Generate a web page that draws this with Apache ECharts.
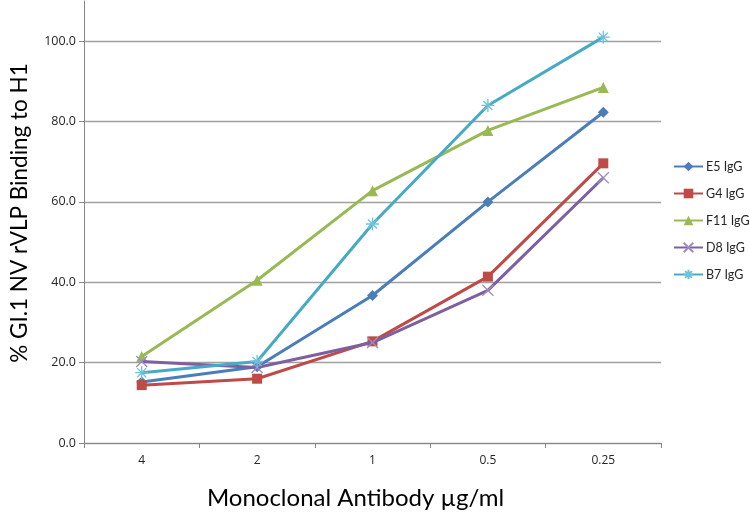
<!DOCTYPE html>
<html>
<head>
<meta charset="utf-8">
<script src="https://cdn.jsdelivr.net/npm/echarts@6/dist/echarts.min.js"></script>
<style>html,body{margin:0;padding:0;background:#fff}#c{width:750px;height:515px}</style>
</head>
<body>
<div id="c"></div>
<script>
var categories = ['4', '2', '1', '0.5', '0.25'];
var seriesNames = ['E5 IgG', 'G4 IgG', 'F11 IgG', 'D8 IgG', 'B7 IgG'];
var E5 = [15.2, 19.0, 36.7, 60.0, 82.3];
var G4 = [14.4, 16.0, 25.3, 41.4, 69.6];
var F11 = [21.5, 40.5, 62.8, 77.8, 88.5];
var D8 = [20.3, 18.8, 25.0, 38.0, 66.0];
var B7 = [17.5, 20.3, 54.5, 84.0, 101.0];
var yTicks = [0, 20, 40, 60, 80, 100];

var xTitle = 'Monoclonal Antibody \u00b5g/ml';
var yTitle = '% GI.1 NV rVLP Binding to H1';

var FONT = 'Lato';
var TICKFONT = 'Open Sans';
var styles = [
  {color: '#4A7EBB', symbol: 'diamond', size: 11, border: '#4A7EBB'},
  {color: '#BE4B48', symbol: 'rect', size: 10, border: '#BE4B48'},
  {color: '#98B954', symbol: 'triangle', size: 11, border: '#98B954'},
  {color: '#7D60A0', symbol: 'path://M0,0L10,10M10,0L0,10', size: 11, border: '#9F8CC4'},
  {color: '#46AAC5', symbol: 'path://M0,5L10,5M5,0L5,10M1.5,1.5L8.5,8.5M8.5,1.5L1.5,8.5', size: 13, border: '#6CC3DA'}
];
var values = [E5, G4, F11, D8, B7];

var series = values.map(function (v, i) {
  var s = styles[i];
  var isPath = s.symbol.indexOf('path://') === 0;
  return {
    name: seriesNames[i],
    type: 'line',
    data: v,
    symbol: s.symbol,
    symbolSize: s.size,
    symbolKeepAspect: true,
    lineStyle: {color: s.color, width: 3},
    itemStyle: {color: isPath ? s.border : s.color, borderColor: s.border, borderWidth: isPath ? 1.3 : 0},
    emphasis: {disabled: true},
    z: 2 + i
  };
});

var chart = echarts.init(document.getElementById('c'), null, {renderer: 'canvas'});
chart.setOption({
  animation: false,
  backgroundColor: '#ffffff',
  grid: {left: 82, right: 89, top: 1, bottom: 70, containLabel: false},
  legend: {
    orient: 'vertical',
    left: 673,
    top: 160,
    itemWidth: 29,
    itemHeight: 12,
    itemGap: 14,
    padding: 0,
    data: seriesNames,
    textStyle: {fontFamily: FONT, fontSize: 12.5, color: '#262626', padding: [0, 0, 0, -2]}
  },
  xAxis: {
    type: 'category',
    data: categories,
    boundaryGap: true,
    axisLine: {lineStyle: {color: '#868686', width: 1}},
    axisTick: {show: true, length: 5, lineStyle: {color: '#868686'}},
    axisLabel: {fontFamily: TICKFONT, fontSize: 12, color: '#262626', margin: 12},
    name: xTitle,
    nameLocation: 'middle',
    nameGap: 43,
    nameTextStyle: {fontFamily: FONT, fontSize: 24, color: '#000', padding: [0, 34, 0, 0]}
  },
  yAxis: {
    type: 'value',
    min: 0,
    max: 110,
    interval: 20,
    axisLine: {show: true, lineStyle: {color: '#868686', width: 1}},
    axisTick: {show: true, length: 5, lineStyle: {color: '#868686'}},
    axisLabel: {
      fontFamily: TICKFONT, fontSize: 12.5, color: '#262626', margin: 8, showMaxLabel: false,
      formatter: function (v) { return yTicks.indexOf(v) >= 0 ? v.toFixed(1) : ''; }
    },
    splitLine: {show: true, showMaxLine: false, lineStyle: {color: '#A0A0A0', width: 1.3}},
    name: yTitle,
    nameLocation: 'middle',
    nameGap: 53,
    nameTextStyle: {fontFamily: FONT, fontSize: 22.5, color: '#000', padding: [0, 0, 0, 18]}
  },
  series: series
});
</script>
</body>
</html>
